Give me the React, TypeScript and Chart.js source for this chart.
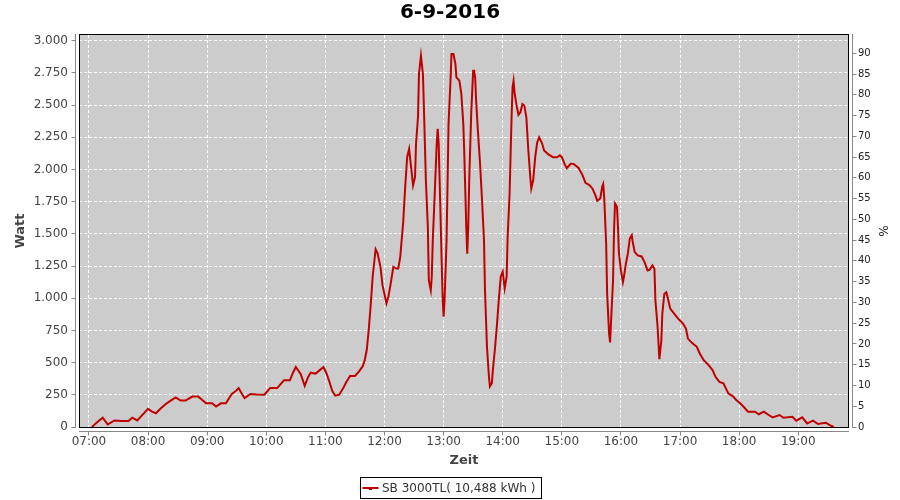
import React, { useEffect, useRef } from 'react';
import { Chart, registerables } from 'chart.js';

Chart.register(...registerables);
Chart.defaults.font.family = '"DejaVu Sans", sans-serif';

const TITLE = '6-9-2016';
const SERIES_LABEL = 'SB 3000TL( 10,488 kWh )';
const X_TITLE = 'Zeit';
const Y_TITLE = 'Watt';
const Y2_TITLE = '%';

const TIMES = [
  '07:03', '07:08', '07:14', '07:19', '07:26', '07:33', '07:40', '07:44', '07:49', '07:55',
  '08:00', '08:04', '08:08', '08:13', '08:18', '08:23', '08:28', '08:33', '08:38', '08:45',
  '08:51', '08:55', '08:59', '09:05', '09:09', '09:14', '09:19', '09:25', '09:29', '09:32',
  '09:35', '09:38', '09:44', '09:50', '09:58', '10:04', '10:11', '10:18', '10:24', '10:27',
  '10:30', '10:35', '10:39', '10:42', '10:45', '10:50', '10:54', '10:58', '11:01', '11:04',
  '11:07', '11:10', '11:14', '11:18', '11:21', '11:25', '11:30', '11:34', '11:38', '11:40',
  '11:42', '11:44', '11:46', '11:48', '11:51', '11:53', '11:56', '11:58', '12:02', '12:04',
  '12:06', '12:09', '12:12', '12:14', '12:16', '12:19', '12:21', '12:23', '12:25', '12:27',
  '12:29', '12:31', '12:32', '12:34', '12:35', '12:37', '12:39', '12:40', '12:42', '12:44',
  '12:45', '12:47', '12:48', '12:49', '12:51', '12:53', '12:54', '12:55', '12:57', '12:58',
  '12:59', '13:00', '13:01', '13:03', '13:04', '13:05', '13:07', '13:08', '13:10', '13:12',
  '13:13', '13:16', '13:18', '13:20', '13:21', '13:22', '13:23', '13:24', '13:25', '13:26',
  '13:28', '13:30', '13:31', '13:32', '13:33', '13:35', '13:37', '13:39', '13:41', '13:42',
  '13:44', '13:46', '13:47', '13:49', '13:50', '13:52', '13:54', '13:56', '13:58', '14:00',
  '14:01', '14:02', '14:04', '14:05', '14:07', '14:08', '14:09', '14:10', '14:11', '14:12',
  '14:14', '14:16', '14:18', '14:20', '14:22', '14:24', '14:26', '14:28', '14:29', '14:31',
  '14:33', '14:35', '14:37', '14:40', '14:42', '14:46', '14:51', '14:55', '14:58', '15:00',
  '15:03', '15:05', '15:09', '15:12', '15:17', '15:21', '15:24', '15:28', '15:31', '15:34',
  '15:36', '15:39', '15:41', '15:42', '15:43', '15:45', '15:46', '15:48', '15:49', '15:50',
  '15:52', '15:53', '15:54', '15:56', '15:57', '15:58', '16:00', '16:02', '16:03', '16:05',
  '16:07', '16:09', '16:11', '16:12', '16:14', '16:17', '16:21', '16:24', '16:27', '16:29',
  '16:32', '16:34', '16:35', '16:37', '16:38', '16:39', '16:41', '16:42', '16:44', '16:46',
  '16:47', '16:50', '16:54', '16:58', '17:03', '17:06', '17:08', '17:12', '17:17', '17:20',
  '17:24', '17:29', '17:33', '17:36', '17:40', '17:44', '17:49', '17:54', '17:57', '18:01',
  '18:05', '18:09', '18:16', '18:20', '18:25', '18:30', '18:34', '18:41', '18:45', '18:54',
  '18:58', '19:04', '19:09', '19:15', '19:20', '19:28', '19:32', '19:36',
];

const WATTS = [
  0, 35, 72, 20, 51, 46, 46, 72, 51, 100,
  141, 120, 107, 145, 179, 205, 230, 205, 205, 236,
  236, 210, 184, 184, 159, 184, 184, 256, 280, 302,
  260, 225, 256, 252, 251, 302, 302, 363, 363, 420,
  466, 410, 320, 380, 422, 415, 440, 466, 420, 353,
  280, 243, 251, 300, 346, 397, 397, 430, 474, 520,
  600, 755, 949, 1169, 1381, 1350, 1240, 1100, 960, 1014,
  1100, 1244, 1231, 1231, 1322, 1593, 1864, 2096, 2161, 2019,
  1877, 1941, 2200, 2406, 2742, 2884, 2742, 2484, 1916, 1554,
  1141, 1063, 1167, 1451, 1812, 2200, 2316, 2200, 1606, 1296,
  1012, 857, 986, 1451, 1890, 2354, 2690, 2897, 2897, 2819,
  2716, 2690, 2587, 2354, 2122, 1838, 1554, 1347, 1554, 1916,
  2432, 2768, 2768, 2716, 2535, 2277, 2045, 1761, 1451, 1063,
  625, 392, 315, 341, 444, 599, 779, 986, 1167, 1206,
  1141, 1076, 1167, 1477, 1812, 2122, 2406, 2639, 2690, 2600,
  2500, 2425, 2445, 2509, 2496, 2406, 2150, 1940, 1852, 1920,
  2098, 2210, 2251, 2202, 2148, 2120, 2096, 2095, 2110, 2096,
  2040, 2010, 2045, 2044, 2012, 1957, 1897, 1879, 1853, 1801,
  1757, 1775, 1866, 1887, 1788, 1424, 1034, 722, 657, 826,
  1138, 1528, 1736, 1710, 1554, 1346, 1216, 1125, 1164, 1268,
  1346, 1463, 1489, 1437, 1359, 1333, 1325, 1281, 1216, 1221,
  1255, 1229, 982, 800, 670, 527, 670, 878, 1034, 1047,
  1021, 920, 880, 842, 803, 765, 687, 654, 623, 571,
  519, 481, 442, 390, 351, 339, 261, 236, 210, 184,
  153, 119, 119, 99, 119, 93, 75, 93, 72, 80,
  49, 75, 28, 49, 23, 33, 15, 0,
];

const HOUR_TICKS = [
  '07:00', '08:00', '09:00', '10:00', '11:00', '12:00', '13:00',
  '14:00', '15:00', '16:00', '17:00', '18:00', '19:00',
];
const WATT_TICKS = [0, 250, 500, 750, 1000, 1250, 1500, 1750, 2000, 2250, 2500, 2750, 3000];
const PCT_TICKS = [0, 5, 10, 15, 20, 25, 30, 35, 40, 45, 50, 55, 60, 65, 70, 75, 80, 85, 90];

const X_MIN = '06:49.9';
const X_MAX = '19:51.5';
const WATT_MAX = 3045;
const PCT_MAX = 94.4;

const toMin = (s: string) => {
  const [h, m] = s.split(':');
  return Number(h) * 60 + Number(m);
};
const fmtWatt = (v: number) =>
  v >= 1000 ? `${Math.floor(v / 1000)}.${String(v % 1000).padStart(3, '0')}` : String(v);

const LINE_COLOR = '#c00000';
const AXIS_COLOR = '#888888';
const GRID_DASH = [3, 2];

const align = (p: number) => Math.round(p - 0.5) + 0.5;

const jfreePlugin = {
  id: 'jfreeLook',
  beforeDraw(chart: any) {
    const { ctx, chartArea: a } = chart;
    ctx.save();
    ctx.fillStyle = '#cccccc';
    ctx.fillRect(a.left, a.top, a.right - a.left, a.bottom - a.top);
    ctx.restore();
  },
  afterDraw(chart: any) {
    const { ctx, chartArea: a, scales } = chart;
    ctx.save();
    // plot border
    ctx.strokeStyle = '#000';
    ctx.lineWidth = 1;
    ctx.strokeRect(a.left + 0.5, a.top - 0.5, a.right - a.left - 1, a.bottom - a.top + 1);

    // offset axis lines
    ctx.strokeStyle = AXIS_COLOR;
    ctx.beginPath();
    const lx = a.left - 3.5;
    ctx.moveTo(lx, a.top - 1);
    ctx.lineTo(lx, a.bottom + 1);
    WATT_TICKS.forEach((v) => {
      const y = align(scales.y.getPixelForValue(v));
      ctx.moveTo(lx - 4, y);
      ctx.lineTo(lx, y);
    });
    const rx = a.right + 3.5;
    ctx.moveTo(rx, a.top - 1);
    ctx.lineTo(rx, a.bottom + 1);
    PCT_TICKS.forEach((v) => {
      const y = align(scales.y2.getPixelForValue(v));
      ctx.moveTo(rx, y);
      ctx.lineTo(rx + 4, y);
    });
    const by = a.bottom + 4.5;
    ctx.moveTo(a.left, by);
    ctx.lineTo(a.right, by);
    HOUR_TICKS.forEach((t) => {
      const x = align(scales.x.getPixelForValue(toMin(t)));
      ctx.moveTo(x, by);
      ctx.lineTo(x, by + 4);
    });
    ctx.stroke();

    // legend
    ctx.font = '12px "DejaVu Sans", sans-serif';
    const textW = ctx.measureText(SERIES_LABEL).width;
    const boxW = Math.round(textW + 28);
    const boxX = Math.round(450 - boxW / 2) + 0.5;
    const boxY = 477.5;
    ctx.strokeStyle = '#000';
    ctx.strokeRect(boxX, boxY, boxW, 21);
    ctx.strokeStyle = LINE_COLOR;
    ctx.lineWidth = 2;
    ctx.beginPath();
    ctx.moveTo(boxX + 2, 488);
    ctx.lineTo(boxX + 18, 488);
    ctx.stroke();
    ctx.fillStyle = LINE_COLOR;
    ctx.fillRect(boxX + 8.5, 487, 3, 3);
    ctx.fillStyle = '#333';
    ctx.textBaseline = 'middle';
    ctx.textAlign = 'left';
    ctx.fillText(SERIES_LABEL, boxX + 21.5, 488.5);
    ctx.restore();
  },
};

export default function App() {
  const ref = useRef<HTMLCanvasElement | null>(null);

  useEffect(() => {
    if (!ref.current) return;
    const points = TIMES.map((t, i) => ({ x: toMin(t), y: WATTS[i] }));
    const chart = new Chart(ref.current, {
      type: 'line',
      data: {
        datasets: [
          {
            label: SERIES_LABEL,
            data: points,
            borderColor: LINE_COLOR,
            backgroundColor: LINE_COLOR,
            borderWidth: 2,
            pointRadius: 0,
            tension: 0,
            fill: false,
            clip: 3,
            yAxisID: 'y',
          },
        ],
      },
      options: {
        responsive: false,
        animation: false,
        devicePixelRatio: 1,
        layout: { padding: 0 },
        plugins: {
          legend: { display: false },
          tooltip: { enabled: false },
          title: {
            display: true,
            text: TITLE,
            color: '#000',
            font: { size: 20, weight: 'bold' },
            padding: { top: 1, bottom: 10 },
          },
        },
        scales: {
          x: {
            type: 'linear',
            position: 'bottom',
            min: toMin(X_MIN),
            max: toMin(X_MAX),
            afterBuildTicks: (s: any) => {
              s.ticks = HOUR_TICKS.map((t) => ({ value: toMin(t) }));
            },
            afterFit: (s: any) => {
              s.height = 73;
            },
            grid: { color: '#ffffff', lineWidth: 1, drawTicks: false },
            border: { display: false, dash: GRID_DASH },
            ticks: {
              autoSkip: false,
              maxRotation: 0,
              padding: 7.5,
              color: '#444',
              font: { size: 12 },
              callback: (_v: any, i: number) => HOUR_TICKS[i],
            },
            title: {
              display: true,
              text: X_TITLE,
              color: '#444',
              font: { size: 13, weight: 'bold' },
              padding: { top: 0, bottom: 32 },
            },
          },
          y: {
            type: 'linear',
            position: 'left',
            min: 0,
            max: WATT_MAX,
            afterBuildTicks: (s: any) => {
              s.ticks = WATT_TICKS.map((v) => ({ value: v }));
            },
            afterFit: (s: any) => {
              s.width = 79;
            },
            grid: { color: '#ffffff', lineWidth: 1, drawTicks: false },
            border: { display: false, dash: GRID_DASH },
            ticks: {
              autoSkip: false,
              padding: 11,
              color: '#444',
              font: { size: 12 },
              callback: (v: any) => fmtWatt(Number(v)),
            },
            title: {
              display: true,
              text: Y_TITLE,
              color: '#444',
              font: { size: 13, weight: 'bold' },
              padding: { top: 12.5, bottom: 0 },
            },
          },
          y2: {
            type: 'linear',
            position: 'right',
            min: 0,
            max: PCT_MAX,
            afterBuildTicks: (s: any) => {
              s.ticks = PCT_TICKS.map((v) => ({ value: v }));
            },
            afterFit: (s: any) => {
              s.width = 51;
            },
            grid: { drawOnChartArea: false, drawTicks: false },
            border: { display: false },
            ticks: {
              autoSkip: false,
              padding: 9,
              color: '#222',
              font: { size: 10 },
              callback: (v: any) => String(v),
            },
            title: {
              display: true,
              text: Y2_TITLE,
              color: '#222',
              font: { size: 12 },
              padding: { top: 10.8, bottom: 0 },
            },
          },
        },
      } as any,
      plugins: [jfreePlugin],
    });
    return () => chart.destroy();
  }, []);

  return (
    <div style={{ position: 'fixed', left: 0, top: 0, width: 900, height: 500, background: '#fff' }}>
      <canvas ref={ref} width={900} height={500} style={{ display: 'block' }} />
    </div>
  );
}
